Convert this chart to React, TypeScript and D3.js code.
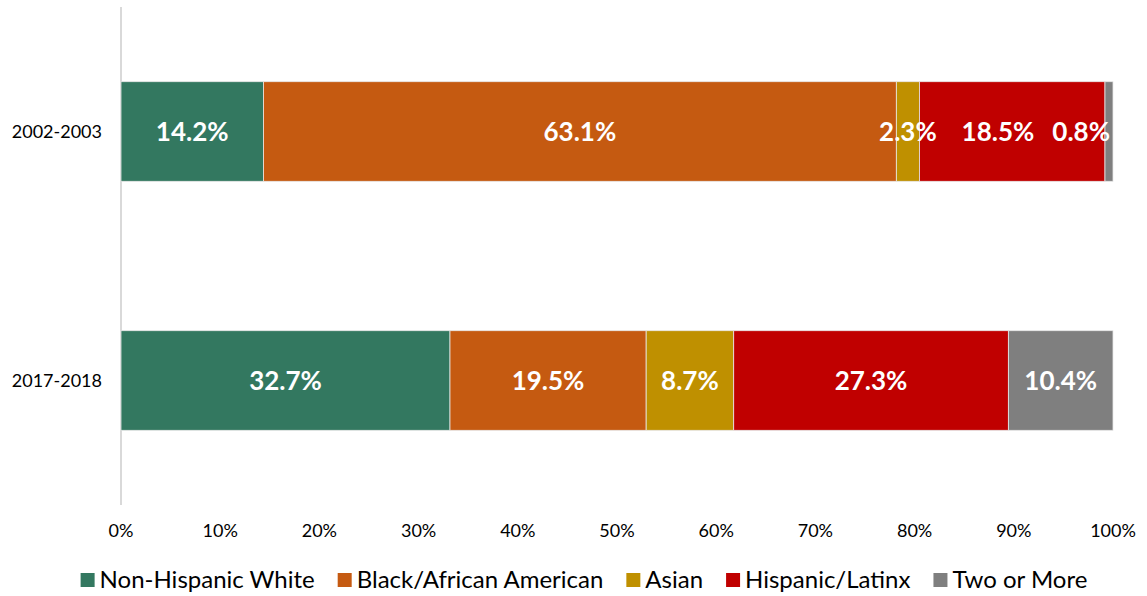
import React, { useEffect, useRef } from "react";
import * as d3 from "d3";

const years = ["2002-2003", "2017-2018"];
const groups = ["Non-Hispanic White", "Black/African American", "Asian", "Hispanic/Latinx", "Two or More"];
const colors = ["#337860", "#C55A11", "#BF9000", "#C00000", "#7F7F7F"];
const white = [14.2, 32.7];
const black = [63.1, 19.5];
const asian = [2.3, 8.7];
const hispanic = [18.5, 27.3];
const twoOrMore = [0.8, 10.4];
const tickValues = [0, 10, 20, 30, 40, 50, 60, 70, 80, 90, 100];

const W = 1147, H = 596;

export default function App() {
  const ref = useRef<SVGSVGElement>(null);

  useEffect(() => {
    const svg = d3.select(ref.current);
    svg.selectAll("*").remove();
    const font = "Lato, 'DejaVu Sans', sans-serif";

    const series = [white, black, asian, hispanic, twoOrMore];
    const x = d3.scaleLinear().domain([0, 100]).range([121, 1113]);
    const y = d3.scaleBand().domain(years).range([7, 505]).paddingInner(0.6).paddingOuter(0.3);

    // axis line on the left
    svg.append("line")
      .attr("x1", x(0)).attr("x2", x(0))
      .attr("y1", 7).attr("y2", 505)
      .attr("stroke", "#d9d9d9").attr("stroke-width", 2);

    // x tick labels
    svg.append("g").selectAll("text").data(tickValues).join("text")
      .attr("x", d => x(d)).attr("y", 537)
      .attr("text-anchor", "middle")
      .style("font-family", font).style("font-size", "18px").attr("fill", "#000")
      .text(d => d + "%");

    // category labels
    svg.append("g").selectAll("text").data(years).join("text")
      .attr("x", 102).attr("y", d => y(d)! + y.bandwidth() / 2 + 6)
      .attr("text-anchor", "end")
      .style("font-family", font).style("font-size", "18px").attr("fill", "#000")
      .text(d => d);

    years.forEach((yr, i) => {
      const vals = series.map(s => s[i]);
      const total = d3.sum(vals);
      let acc = 0;
      const segs = vals.map((v, k) => {
        const s = { k, v, x0: acc / total * 100, x1: (acc + v) / total * 100 };
        acc += v;
        return s;
      });
      const g = svg.append("g");
      g.selectAll("rect").data(segs).join("rect")
        .attr("x", d => x(d.x0)).attr("width", d => x(d.x1) - x(d.x0))
        .attr("y", y(yr)!).attr("height", y.bandwidth())
        .attr("fill", d => colors[d.k])
        .attr("stroke", "#e8e8e8").attr("stroke-width", 0.8);

      const labels = g.selectAll("text.lbl").data(segs).join("text")
        .attr("class", "lbl")
        .attr("x", d => (x(d.x0) + x(d.x1)) / 2)
        .attr("y", y(yr)! + y.bandwidth() / 2 + 9)
        .attr("text-anchor", "middle")
        .style("font-family", font).style("font-size", "26px").style("font-weight", "bold")
        .attr("fill", "#fff")
        .text(d => d.v.toFixed(1) + "%");

      // push labels left so they stay inside the bar and don't collide
      const nodes = labels.nodes() as SVGTextElement[];
      let limit = x(100) - 3;
      for (let k = nodes.length - 1; k >= 0; k--) {
        const w = nodes[k].getComputedTextLength();
        let cx = (x(segs[k].x0) + x(segs[k].x1)) / 2;
        if (cx + w / 2 > limit) cx = limit - w / 2;
        d3.select(nodes[k]).attr("x", cx);
        limit = cx - w / 2 - 18;
      }
    });

    // legend
    const lg = svg.append("g");
    const items = groups.map((name, k) => {
      const t = lg.append("text")
        .attr("y", 588)
        .style("font-family", font).style("font-size", "24px").attr("fill", "#000")
        .text(name);
      return { k, t, w: (t.node() as SVGTextElement).getComputedTextLength() };
    });
    const sq = 14, gapSq = 5, gapItem = 23;
    const totalW = d3.sum(items, d => sq + gapSq + d.w) + gapItem * (items.length - 1);
    let lx = 584 - totalW / 2;
    items.forEach(it => {
      lg.append("rect").attr("x", lx).attr("y", 573).attr("width", sq).attr("height", sq)
        .attr("fill", colors[it.k]);
      it.t.attr("x", lx + sq + gapSq);
      lx += sq + gapSq + it.w + gapItem;
    });
  }, []);

  return (
    <svg ref={ref} width={W} height={H} style={{ position: "absolute", left: 0, top: 0, background: "#fff" }} />
  );
}
